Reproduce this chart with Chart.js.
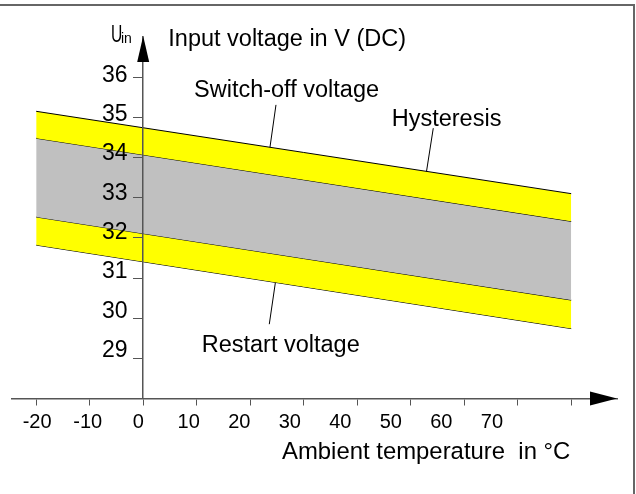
<!DOCTYPE html>
<html>
<head>
<meta charset="utf-8">
<script src="https://cdn.jsdelivr.net/npm/chart.js@4/dist/chart.umd.min.js"></script>
<style>
  html, body { margin: 0; padding: 0; background: #fff; }
  #wrap { position: relative; width: 636px; height: 494px; }
  #frame { position: absolute; left: 0; top: 4px; width: 635px; height: 490px; box-sizing: border-box;
           border-top: 2px solid #666; border-right: 2px solid #666; pointer-events: none; }
  canvas { position: absolute; left: 0; top: 0; }
</style>
</head>
<body>
<div id="wrap">
  <canvas id="chart" width="636" height="494"></canvas>
  <div id="frame"></div>
</div>
<script>
// Ambient temperature range covered by the bands (°C)
const temps = [-20, 80];
// Band edges in V at -20 °C and 80 °C
const switchOffHigh = [35.15, 33.10];
const switchOffLow = [34.48, 32.41];
const restartHigh = [32.52, 30.45];
const restartLow = [31.82, 29.74];

// Leader lines from the labels into the bands, [°C, V]
const switchOffPointer = [[24.82, 35.31], [23.33, 33.91]];
const hysteresisPointer = [[54.22, 34.73], [50.93, 31.93]];
const restartPointer = [[25.14, 31.28], [23.57, 29.85]];

// Axis ticks
const xTickValues = [-20, -10, 0, 10, 20, 30, 40, 50, 60, 70, 80];
const xTickLabels = [-20, -10, 0, 10, 20, 30, 40, 50, 60, 70];
const yTickValues = [29, 30, 31, 32, 33, 34, 35, 36];

// Texts
const yAxisTitle = "Input voltage in V (DC)";
const xAxisTitle = "Ambient temperature  in °C";
const bandLabels = ["Switch-off voltage", "Hysteresis", "Restart voltage"];

const FONT = "'Liberation Sans', Arial, sans-serif";
const axisGray = "#555";
const yellow = "#ffff00";
const gray = "#c0c0c0";

const edge = vals => temps.map((t, i) => ({ x: t, y: vals[i] }));
const pointer = pts => pts.map(p => ({ x: p[0], y: p[1] }));

// scales sit on top of each other, so none of them may take room in the layout
const noRoom = axis => {
    if (axis.isHorizontal()) axis.height = 0; else axis.width = 0;
    axis.paddingTop = axis.paddingBottom = axis.paddingLeft = axis.paddingRight = 0;
};
const setTicks = values => axis => { axis.ticks = values.map(v => ({ value: v })); };

// arrows, U_in and the free texts
const decorations = {
    id: "decorations",
    afterDraw(chart) {
        const { ctx, chartArea, scales: { x, y } } = chart;
        const x0 = x.getPixelForValue(0);
        const yBase = y.getPixelForValue(28);
        ctx.save();
        ctx.fillStyle = "#000";
        ctx.beginPath();
        ctx.moveTo(x0, chartArea.top - 1);
        ctx.lineTo(x0 - 6, chartArea.top + 25);
        ctx.lineTo(x0 + 6, chartArea.top + 25);
        ctx.closePath();
        ctx.fill();
        ctx.beginPath();
        ctx.moveTo(chartArea.right, yBase);
        ctx.lineTo(chartArea.right - 27, yBase - 7);
        ctx.lineTo(chartArea.right - 27, yBase + 7);
        ctx.closePath();
        ctx.fill();

        ctx.textAlign = "left";
        ctx.textBaseline = "alphabetic";
        const put = (text, tx, ty, size) => {
            ctx.font = size + "px " + FONT;
            ctx.fillText(text, x.getPixelForValue(tx), y.getPixelForValue(ty));
        };
        put(yAxisTitle, 4.69, 36.78, 23.5);
        put(bandLabels[0], 9.5, 35.51, 23.5);
        put(bandLabels[1], 46.45, 34.78, 23.5);
        put(bandLabels[2], 10.93, 29.15, 23.5);
        put(xAxisTitle, 25.94, 26.49, 23.9);
        put("in", -4.15, 36.86, 14);
        // the U of U_in is a condensed glyph in the original
        ctx.font = "23px " + FONT;
        ctx.translate(x.getPixelForValue(-6.0), y.getPixelForValue(36.88));
        ctx.scale(0.68, 1);
        ctx.fillText("U", 0, 0);
        ctx.restore();
    }
};

const lineBase = { borderColor: "#000", borderWidth: 1, pointRadius: 0, tension: 0 };

new Chart(document.getElementById("chart"), {
    type: "line",
    data: {
        datasets: [
            { ...lineBase, data: edge(switchOffHigh), fill: "+1", backgroundColor: yellow },
            { ...lineBase, data: edge(switchOffLow), fill: "+1", backgroundColor: gray },
            { ...lineBase, data: edge(restartHigh), fill: "+1", backgroundColor: yellow },
            { ...lineBase, data: edge(restartLow), fill: false },
            { ...lineBase, data: pointer(switchOffPointer), fill: false },
            { ...lineBase, data: pointer(hysteresisPointer), fill: false },
            { ...lineBase, data: pointer(restartPointer), fill: false }
        ]
    },
    options: {
        responsive: false,
        animation: false,
        events: [],
        layout: { autoPadding: false, padding: { left: 12, right: 19, top: 37, bottom: 95.5 } },
        plugins: { legend: { display: false }, tooltip: { enabled: false } },
        scales: {
            x: {
                type: "linear", position: "bottom", bounds: "data", min: -24.52, max: 88.56,
                afterBuildTicks: setTicks(xTickValues), afterFit: noRoom,
                ticks: { display: false },
                grid: { drawOnChartArea: false, tickLength: 7, color: axisGray, lineWidth: 1 },
                border: { color: axisGray, width: 1.5 }
            },
            // the printed tick labels drift slightly against the tick marks, hence a second scale
            xLabels: {
                type: "linear", position: { y: 28 }, bounds: "data", min: -24.98, max: 94.76,
                afterBuildTicks: setTicks(xTickLabels), afterFit: noRoom,
                grid: { display: false, drawTicks: false }, border: { display: false },
                ticks: { autoSkip: false, maxRotation: 0, padding: 12, color: "#000",
                         font: { family: FONT, size: 20 }, callback: v => String(v) }
            },
            y: {
                type: "linear", position: { x: 0 }, bounds: "data", min: 28, max: 37,
                afterBuildTicks: setTicks(yTickValues), afterFit: noRoom,
                ticks: { display: false },
                grid: { drawOnChartArea: false, tickLength: 9, color: axisGray, lineWidth: 1, z: 1 },
                border: { color: axisGray, width: 1.5, z: 1 }
            },
            yLabels: {
                type: "linear", position: { x: -2.93 }, bounds: "data", min: 27.79, max: 36.97,
                afterBuildTicks: setTicks(yTickValues), afterFit: noRoom,
                grid: { display: false, drawTicks: false }, border: { display: false },
                ticks: { autoSkip: false, padding: 0, color: "#000", z: 1,
                         font: { family: FONT, size: 23 }, callback: v => String(v) }
            }
        }
    },
    plugins: [decorations]
});
</script>
</body>
</html>
